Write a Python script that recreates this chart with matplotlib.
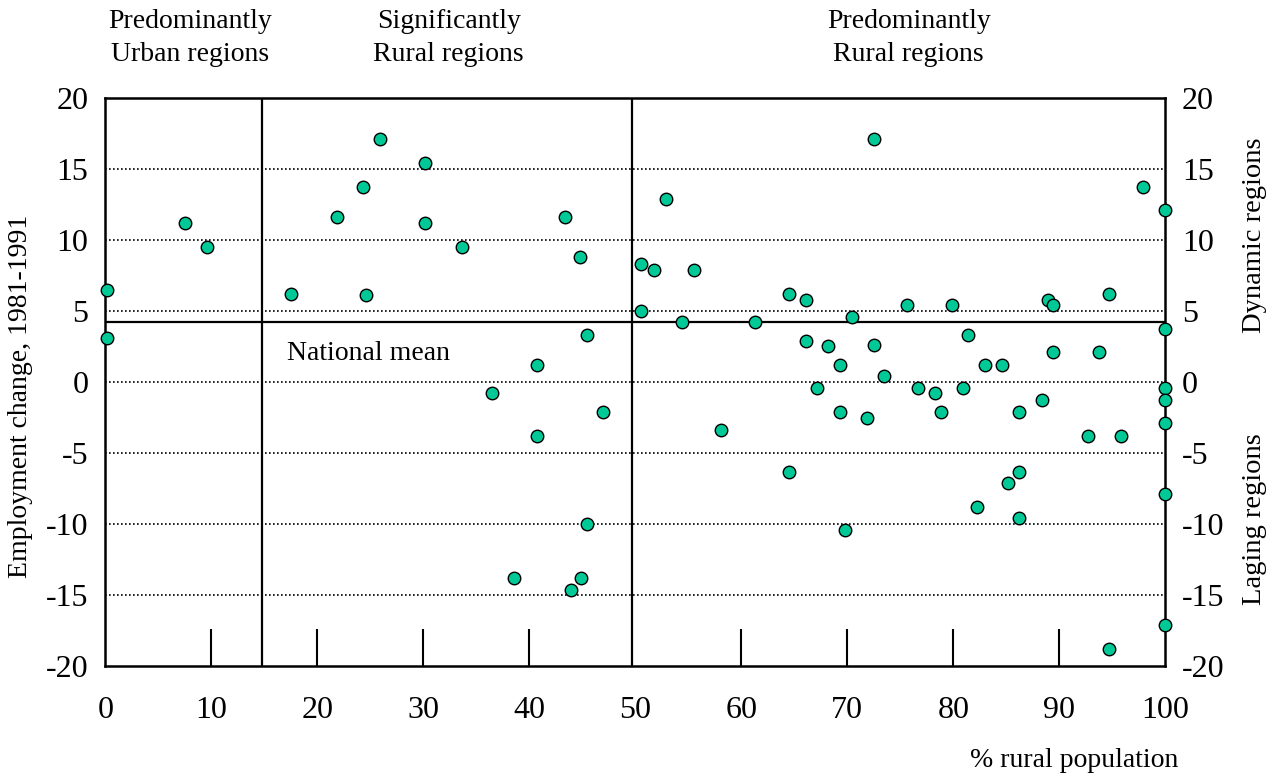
import matplotlib
matplotlib.use("Agg")
import matplotlib.pyplot as plt

# ─── DATOS ──────────────────────────────────────────────────────────────────
rural_pct = [0.2, 0.2, 7.5, 9.6, 17.5, 21.9, 24.3, 24.6, 25.9, 30.2, 30.2, 33.7,
             36.5, 38.6, 40.7, 40.7, 43.4, 43.9, 44.8, 44.9, 45.4, 45.4, 47.0,
             50.5, 50.5, 51.8, 52.9, 54.4, 55.5, 58.1, 61.3, 64.5, 64.5, 66.1,
             66.1, 67.1, 68.2, 69.3, 69.3, 69.8, 70.4, 71.9, 72.5, 72.5, 73.5,
             75.6, 76.7, 78.3, 78.8, 79.9, 80.9, 81.4, 82.2, 83.0, 84.6, 85.2,
             86.2, 86.2, 86.2, 88.4, 88.9, 89.4, 89.4, 92.7, 93.7, 94.7, 94.7,
             95.8, 97.9, 100, 100, 100, 100, 100, 100, 100]
emp_change = [6.5, 3.1, 11.2, 9.5, 6.2, 11.6, 13.7, 6.1, 17.1, 15.4, 11.2, 9.5,
              -0.8, -13.8, 1.2, -3.8, 11.6, -14.6, 8.8, -13.8, 3.3, -10.0, -2.1,
              8.3, 5.0, 7.9, 12.9, 4.2, 7.9, -3.4, 4.2, 6.2, -6.3, 5.8,
              2.9, -0.4, 2.5, 1.2, -2.1, -10.4, 4.6, -2.5, 17.1, 2.6, 0.4,
              5.4, -0.4, -0.8, -2.1, 5.4, -0.4, 3.3, -8.8, 1.2, 1.2, -7.1,
              -2.1, -6.3, -9.6, -1.3, 5.8, 5.4, 2.1, -3.8, 2.1, 6.2, -18.8,
              -3.8, 13.7, 12.1, 3.7, -0.4, -1.3, -2.9, -7.9, -17.1]

national_mean = 4.2
dividers = [14.8, 49.7]
grid_levels = [-15, -10, -5, 0, 5, 10, 15]
y_ticks = [-20, -15, -10, -5, 0, 5, 10, 15, 20]
x_ticks = [0, 10, 20, 30, 40, 50, 60, 70, 80, 90, 100]
# marcas verticales internas (no en 0, 50, 100)
x_marks = [10, 20, 30, 40, 60, 70, 80, 90]

group_labels = ["Predominantly\nUrban regions",
                "Significantly\nRural regions",
                "Predominantly\nRural regions"]
group_centers = [8.0, 32.4, 75.8]

plt.rcParams["font.family"] = ["Liberation Serif", "DejaVu Serif"]
plt.rcParams["axes.unicode_minus"] = False

# ─── GRÁFICA ────────────────────────────────────────────────────────────────
fig = plt.figure(figsize=(12.79, 7.74), dpi=100)
ax = fig.add_axes([0.0823, 0.1391, 0.8288, 0.7347])

for g in grid_levels:
    ax.axhline(g, color="black", linestyle=(0, (1, 1.4)), linewidth=1.2, zorder=1)
ax.axhline(national_mean, color="black", linewidth=1.6, zorder=2)
for d in dividers:
    ax.axvline(d, color="black", linewidth=1.6, zorder=2)

ax.plot(rural_pct, emp_change, linestyle="none", marker="o", markersize=9,
        markerfacecolor="#00c896", markeredgecolor="black", markeredgewidth=1.0,
        clip_on=False, zorder=5)

ax.set_xlim(0, 100)
ax.set_ylim(-20, 20)
ax.xaxis.remove_overlapping_locs = False
ax.set_xticks(x_ticks)
ax.set_xticks(x_marks, minor=True)
ax.set_yticks(y_ticks)
ax.tick_params(axis="x", which="major", length=0, pad=21, labelsize=23)
ax.tick_params(axis="x", which="minor", direction="in", length=27, width=1.5)
ax.tick_params(axis="y", length=0, pad=12, labelsize=23, right=False,
               labelright=True)
for side in ["left", "right", "top", "bottom"]:
    ax.spines[side].set_linewidth(1.8)

# Etiquetas de grupos arriba
for lab, xc in zip(group_labels, group_centers):
    ax.text(xc, 1.105, lab, transform=ax.get_xaxis_transform(), ha="center",
            va="center", fontsize=20, linespacing=1.45)

ax.text(17.1, 2.0, "National mean", ha="left", va="center", fontsize=20)

fig.text(21 / 1279, 0.475 * 0.7347 + 0.1391, "Employment change, 1981-1991",
         rotation=90, ha="center", va="center", fontsize=20)
ax.text(1.0837, 0.7585, "Dynamic regions", transform=ax.transAxes,
        rotation=90, ha="center", va="center", fontsize=20.5)
ax.text(1.0837, 0.259, "Laging regions", transform=ax.transAxes,
        rotation=90, ha="center", va="center", fontsize=20.5)
ax.text(1.012, -0.165, "% rural population", transform=ax.transAxes,
        ha="right", va="center", fontsize=20)

fig.savefig("out.png", dpi=100)
